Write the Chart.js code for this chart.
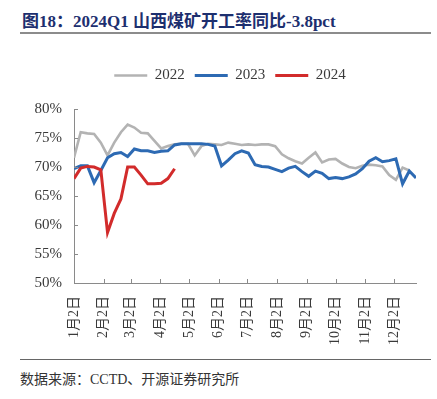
<!DOCTYPE html>
<html>
<head>
<meta charset="utf-8">
<script src="https://cdn.jsdelivr.net/npm/chart.js@4.4.1/dist/chart.umd.min.js"></script>
<style>
    html, body { margin: 0; padding: 0; background: #fff; }
    body { width: 437px; height: 399px; position: relative; overflow: hidden; }
    #title {
        position: absolute; left: 22px; top: 7px;
        font: bold 17px "Liberation Serif", "Noto Sans CJK SC", serif;
        color: #1d2f6f; white-space: nowrap;
    }
    .rule { position: absolute; left: 20px; width: 411px; height: 2px; background: #8c8c8c; }
    #chart-box { position: absolute; left: 0; top: 40px; width: 437px; height: 318px; }
    #source {
        position: absolute; left: 20px; top: 368px;
        font: 14px "Liberation Serif", "Noto Sans CJK SC", serif;
        color: #333; white-space: nowrap;
    }
</style>
</head>
<body>
<div id="title">图18：2024Q1 山西煤矿开工率同比-3.8pct</div>
<div class="rule" style="top:32px"></div>
<div id="chart-box"><canvas id="line-chart"></canvas></div>
<div class="rule" style="top:359px; height:1px; background:#666"></div>
<div id="source">数据来源：CCTD、开源证券研究所</div>

<script>
const FONT = "'Liberation Serif', 'Noto Sans CJK SC', serif";
const AXISCOLOR = "#8a8a8a";
const TEXTCOLOR = "#3a3a3a";

const SERIES_NAMES = ["2022", "2023", "2024"];
const SERIES_COLORS = ["#b3b3b3", "#2d6ab3", "#d22b2b"];

// weekly readings (%), first point = 1月2日
const RATE_2022 = [71.6, 76.0, 75.8, 75.7, 74.2, 72.0, 74.2, 76.0, 77.3, 76.8,
    75.9, 75.8, 74.5, 73.2, 73.6, 73.9, 74.0, 74.0, 72.0, 73.6,
    74.0, 73.9, 73.8, 74.2, 74.0, 73.8, 73.9, 73.8, 73.9, 73.9,
    73.6, 72.2, 71.5, 71.0, 70.6, 71.6, 72.5, 70.8, 71.3, 71.4,
    70.6, 70.0, 69.8, 70.2, 70.4, 70.3, 70.1, 68.6, 67.8, 69.9,
    69.4];
const RATE_2023 = [69.7, 70.2, 70.2, 67.3, 69.4, 71.6, 72.3, 72.5, 71.8, 73.1,
    72.8, 72.8, 72.5, 72.7, 72.8, 73.8, 74.0, 74.0, 74.0, 74.0,
    73.9, 73.6, 70.2, 71.2, 72.3, 72.8, 72.4, 70.4, 70.1, 70.0,
    69.6, 69.2, 69.8, 70.1, 69.2, 68.4, 69.3, 68.9, 68.0, 68.2,
    68.0, 68.3, 68.8, 69.7, 71.0, 71.6, 70.9, 71.1, 71.4, 67.1,
    69.3, 68.1];
const RATE_2024 = [68.0, 69.8, 70.1, 70.0, 69.5, 58.7, 62.0, 64.5, 70.0, 70.0,
    68.6, 67.1, 67.1, 67.2, 68.0, 69.7];

const MONTH_LABELS = ["1月2日", "2月2日", "3月2日", "4月2日", "5月2日", "6月2日",
    "7月2日", "8月2日", "9月2日", "10月2日", "11月2日", "12月2日"];
const Y_TICKS = [50, 55, 60, 65, 70, 75, 80];

// week offset of each month label, counted from 1月2日
function monthWeek(monthIndex) {
    const start = Date.UTC(2023, 0, 2);
    const day = Date.UTC(2023, monthIndex, 2);
    return (day - start) / 86400000 / 7;
}

function toPoints(values) {
    return values.map((v, i) => ({x: i, y: v}));
}

// short tick marks pointing into the plot, like the original
const innerTicks = {
    id: "innerTicks",
    afterDraw(chart) {
        const ctx = chart.ctx;
        const area = chart.chartArea;
        const xs = chart.scales.x;
        const ys = chart.scales.y;
        ctx.save();
        ctx.strokeStyle = AXISCOLOR;
        ctx.lineWidth = 1;
        ctx.beginPath();
        xs.ticks.forEach(t => {
            const px = Math.round(xs.getPixelForValue(t.value)) + 0.5;
            if (t.value > 0) {
                ctx.moveTo(px, area.bottom);
                ctx.lineTo(px, area.bottom - 4);
            }
        });
        ys.ticks.forEach(t => {
            const py = Math.round(ys.getPixelForValue(t.value)) + 0.5;
            ctx.moveTo(area.left, py);
            ctx.lineTo(area.left + 4, py);
        });
        ctx.stroke();
        ctx.restore();
    }
};

// nudge the legend so it sits where the original has it
const legendShift = {
    id: "legendShift",
    afterLayout(chart) {
        const lg = chart.legend;
        lg.left += 22;
        lg.right += 22;
        lg.top -= 16;
        lg.bottom -= 16;
    }
};

function makeLineChart() {
    const rates = [RATE_2022, RATE_2023, RATE_2024];
    const datasets = SERIES_NAMES.map((name, i) => ({
        label: name,
        data: toPoints(rates[i]),
        borderColor: SERIES_COLORS[i],
        backgroundColor: SERIES_COLORS[i],
        borderWidth: i === 0 ? 2.6 : 3,
        pointRadius: 0,
        tension: 0,
        order: 3 - i
    }));

    const ctx = document.querySelector("#line-chart").getContext("2d");
    const configuration = {
        type: "line",
        data: { datasets: datasets },
        options: {
            responsive: true,
            maintainAspectRatio: false,
            animation: false,
            layout: {
                padding: { top: 34, left: 0, right: 21, bottom: 0 }
            },
            plugins: {
                legend: {
                    position: "top",
                    labels: {
                        usePointStyle: true,
                        pointStyle: "line",
                        pointStyleWidth: 33,
                        boxHeight: 12,
                        padding: 10,
                        font: { family: FONT, size: 15 },
                        color: TEXTCOLOR,
                        sort: (a, b) => a.datasetIndex - b.datasetIndex
                    }
                },
                tooltip: { enabled: false }
            },
            scales: {
                x: {
                    type: "linear",
                    min: 0,
                    max: 51,
                    grid: { display: false, drawTicks: false },
                    border: { display: true, color: AXISCOLOR, width: 1 },
                    afterBuildTicks: scale => {
                        scale.ticks = MONTH_LABELS.map((_, i) => ({ value: monthWeek(i) }));
                    },
                    afterFit: scale => { scale.height = 75; },
                    ticks: {
                        autoSkip: false,
                        minRotation: 90,
                        maxRotation: 90,
                        padding: 13,
                        font: { family: FONT, size: 14 },
                        color: TEXTCOLOR,
                        callback: (value, index) => MONTH_LABELS[index]
                    }
                },
                y: {
                    min: 50,
                    max: 80,
                    grid: { display: false, drawTicks: false },
                    border: { display: true, color: AXISCOLOR, width: 1 },
                    afterBuildTicks: scale => {
                        scale.ticks = Y_TICKS.map(v => ({ value: v }));
                    },
                    afterFit: scale => { scale.width = 74; },
                    ticks: {
                        padding: 12,
                        font: { family: FONT, size: 15 },
                        color: TEXTCOLOR,
                        callback: value => value + "%"
                    }
                }
            }
        },
        plugins: [innerTicks, legendShift]
    };
    new Chart(ctx, configuration);
}

makeLineChart();
</script>
</body>
</html>
